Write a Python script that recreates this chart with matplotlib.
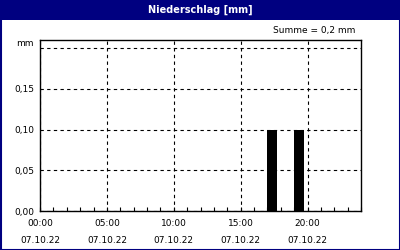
import matplotlib
matplotlib.use("Agg")
import matplotlib.pyplot as plt
from matplotlib.patches import Rectangle

# data
hours = [17, 19]
rain_mm = [0.10, 0.10]
x_ticks = [0, 5, 10, 15, 20]
x_labels = ["00:00\n\n07.10.22", "05:00\n\n07.10.22", "10:00\n\n07.10.22",
            "15:00\n\n07.10.22", "20:00\n\n07.10.22"]
y_ticks = [0.0, 0.05, 0.10, 0.15]
y_labels = ["0,00", "0,05", "0,10", "0,15"]
title = "Niederschlag [mm]"
summe = "Summe = 0,2 mm"

navy = "#000080"
plt.rcParams["font.family"] = "DejaVu Sans"
plt.rcParams["font.size"] = 6.5

fig = plt.figure(figsize=(4, 2.5), dpi=100)
fig.patch.set_facecolor("white")

# header band and frame
fig.patches.append(Rectangle((0, 230 / 250), 1, 20 / 250, transform=fig.transFigure,
                             facecolor=navy, edgecolor="none", zorder=0))
fig.patches.append(Rectangle((0.5 / 400, 0.5 / 250), 399 / 400, 249 / 250,
                             transform=fig.transFigure, facecolor="none",
                             edgecolor=navy, linewidth=1.5, zorder=5))
fig.text(0.5, 240 / 250, title, color="white", fontweight="bold",
         ha="center", va="center", fontsize=7)
fig.text(355 / 400, 219 / 250, summe, ha="right", va="center")

ax = fig.add_axes([40 / 400, 39 / 250, 321 / 400, 171 / 250])
ax.bar(hours, rain_mm, width=0.75, align="edge", color="black", zorder=3)

ax.set_xlim(0, 24)
ax.set_ylim(0, 0.21)
ax.set_xticks(x_ticks)
ax.set_xticklabels(x_labels, linespacing=0.9)
ax.set_xticks(range(25), minor=True)
ax.set_yticks(y_ticks + [0.20])
ax.set_yticklabels(y_labels + [""])
ax.text(-0.02, 0.20, "mm", transform=ax.get_yaxis_transform(), ha="right", va="bottom")

ax.tick_params(axis="x", which="both", direction="in", length=3, width=0.8, pad=6)
ax.tick_params(axis="y", length=0, pad=4)
ax.grid(True, which="major", color="black", linestyle=(0, (3, 3)), linewidth=0.8)
for s in ax.spines.values():
    s.set_linewidth(1)
ax.set_axisbelow(True)

fig.savefig("out.png", dpi=100)
